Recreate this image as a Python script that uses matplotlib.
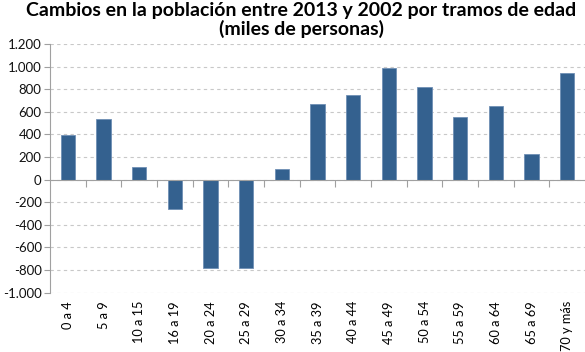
import matplotlib
matplotlib.use("Agg")
import matplotlib.pyplot as plt
from matplotlib.ticker import FuncFormatter, FixedLocator
import numpy as np

categories = ["0 a 4", "5 a 9", "10 a 15", "16 a 19", "20 a 24", "25 a 29", "30 a 34",
              "35 a 39", "40 a 44", "45 a 49", "50 a 54", "55 a 59", "60 a 64",
              "65 a 69", "70 y más"]
values = [397, 540, 113, -260, -778, -778, 95, 665, 745, 987, 823, 551, 651, 228, 942]
title = "Cambios en la población entre 2013 y 2002 por tramos de edad\n(miles de personas)"

plt.rcParams['font.family'] = ['Lato', 'DejaVu Sans']

fig = plt.figure(figsize=(5.85, 3.52), dpi=100)
ax = fig.add_axes([0.0855, 0.1685, 0.9145, 0.7065])

x = np.arange(len(categories))
ax.bar(x, values, width=0.4, color="#34618F", edgecolor="#6F8FB5", linewidth=0.6, zorder=3)

ax.set_xlim(-0.5, len(categories) - 0.5)
ax.set_ylim(-1000, 1200)
ax.set_yticks(np.arange(-1000, 1201, 200))
ax.yaxis.set_major_formatter(FuncFormatter(lambda v, p: f"{int(v):,}".replace(",", ".")))
ax.tick_params(axis='y', labelsize=9.5, length=4, color="#A0A0A0", width=0.8, pad=2)
for lbl in ax.get_yticklabels():
    lbl.set_color("#111111")

ax.grid(axis='y', linestyle=(0, (3, 3)), color="#C8C8C8", linewidth=0.8, zorder=0)

for s in ["top", "right"]:
    ax.spines[s].set_visible(False)
ax.spines["left"].set_color("#A0A0A0")
ax.spines["bottom"].set_position(("data", 0))
ax.spines["bottom"].set_color("#A0A0A0")
ax.spines["bottom"].set_zorder(4)

ax.set_xticks(x)
ax.xaxis.set_major_formatter(FuncFormatter(lambda v, p: ""))
ax.tick_params(axis='x', which='major', length=0)
ax.xaxis.set_minor_locator(FixedLocator(x[:-1] + 0.5))
ax.tick_params(axis='x', which='minor', length=5, direction='out', color="#A0A0A0", width=0.8)

sec = ax.secondary_xaxis(location=0)
sec.set_xticks(x)
sec.set_xticklabels(categories, rotation=90, fontsize=9.2)
sec.tick_params(length=0, pad=6)
sec.spines["bottom"].set_visible(False)

fig.suptitle(title, fontsize=14, fontweight='bold', x=0.515, y=0.995, linespacing=1.05)

fig.savefig("out.png", dpi=100)
